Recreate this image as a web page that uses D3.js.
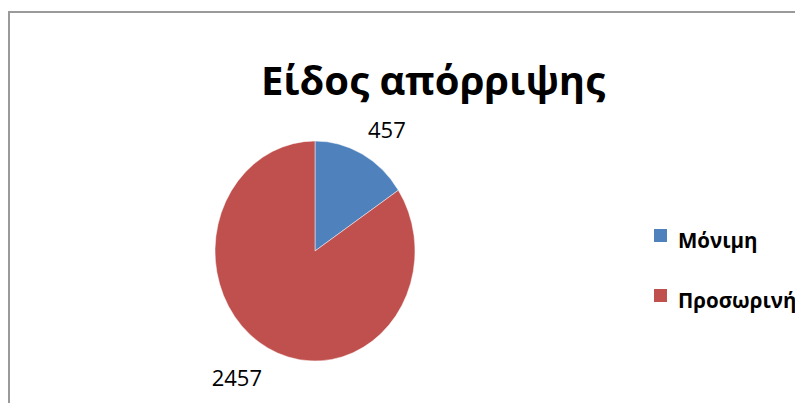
<!DOCTYPE html>
<html>
<head>
<meta charset="utf-8">
<script src="https://cdn.jsdelivr.net/npm/d3@7"></script>
<style>
  html, body { margin: 0; padding: 0; background: #fff; }
  svg { display: block; }
  text { font-family: "Open Sans", "Noto Sans", sans-serif; }
</style>
</head>
<body>
<svg id="chart" width="795" height="403"></svg>
<script>
// Disposal type counts
const categories = ["Μόνιμη", "Προσωρινή"];
const values = [457, 2457];
const colors = ["#4F81BD", "#C0504D"];
const title = "Είδος απόρριψης";

const svg = d3.select("#chart");

// Chart area frame (runs off the right and bottom edges)
svg.append("path")
  .attr("d", "M9,410 L9,12 L800,12")
  .attr("fill", "none")
  .attr("stroke", "#9a9a9a")
  .attr("stroke-width", 2);

// Title
svg.append("text")
  .attr("x", 433)
  .attr("y", 95)
  .attr("text-anchor", "middle")
  .attr("font-size", 40)
  .attr("font-weight", 700)
  .attr("fill", "#000")
  .text(title);

// Pie, drawn slightly taller than wide
const cx = 315, cy = 251, rx = 100, ry = 110;
const pie = d3.pie().sort(null).value(d => d)(values);
const arc = d3.arc().innerRadius(0).outerRadius(rx);

const g = svg.append("g")
  .attr("transform", `translate(${cx},${cy}) scale(1,${ry / rx})`);

g.selectAll("path.slice")
  .data(pie)
  .join("path")
  .attr("class", "slice")
  .attr("d", arc)
  .attr("fill", (d, i) => colors[i])
  .attr("stroke", "#ffffff")
  .attr("stroke-opacity", 0.6)
  .attr("stroke-width", 0.8)
  .attr("vector-effect", "non-scaling-stroke");

// Value labels just outside each slice
const k = 1.12;
svg.selectAll("text.value")
  .data(pie)
  .join("text")
  .attr("class", "value")
  .each(function (d) {
    const a = (d.startAngle + d.endAngle) / 2;
    const px = cx + rx * k * Math.sin(a);
    const py = cy - ry * k * Math.cos(a);
    const right = Math.sin(a) >= 0;
    const above = Math.cos(a) >= 0;
    d3.select(this)
      .attr("x", px)
      .attr("y", above ? py - 4 : py + 26)
      .attr("text-anchor", right ? "start" : "end");
  })
  .attr("font-size", 22)
  .attr("fill", "#000")
  .text(d => d.data);

// Legend
const legend = svg.append("g");
const rows = legend.selectAll("g")
  .data(categories)
  .join("g")
  .attr("transform", (d, i) => `translate(654,${229 + i * 60})`);

rows.append("rect")
  .attr("width", 13)
  .attr("height", 13)
  .attr("fill", (d, i) => colors[i]);

rows.append("text")
  .attr("x", 24)
  .attr("y", 19)
  .attr("font-size", 20.5)
  .attr("font-weight", 700)
  .attr("fill", "#000")
  .text(d => d);
</script>
</body>
</html>
